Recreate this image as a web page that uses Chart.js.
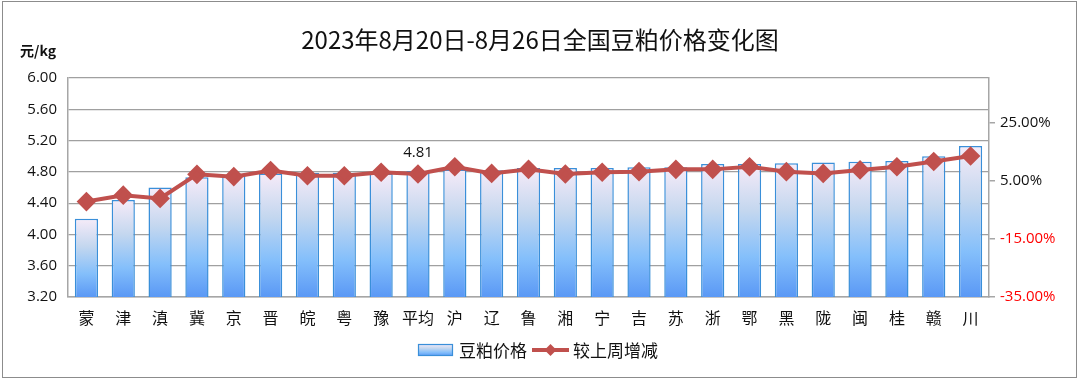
<!DOCTYPE html>
<html>
<head>
<meta charset="utf-8">
<script src="https://cdn.jsdelivr.net/npm/chart.js@4/dist/chart.umd.min.js"></script>
<style>
html,body{margin:0;padding:0;background:#fff;}
#wrap{width:1080px;height:380px;position:relative;}
</style>
</head>
<body>
<div id="wrap"><canvas id="c" width="1080" height="380"></canvas></div>
<script>
const categories = ['蒙','津','滇','冀','京','晋','皖','粤','豫','平均','沪','辽','鲁','湘','宁','吉','苏','浙','鄂','黑','陇','闽','桂','赣','川'];
const prices = [4.20,4.44,4.60,4.73,4.75,4.78,4.79,4.79,4.78,4.81,4.83,4.82,4.85,4.85,4.85,4.86,4.86,4.90,4.90,4.91,4.92,4.93,4.94,5.00,5.13];
const weeklyChange = [-2.1,0.1,-1.0,7.3,6.5,8.6,6.8,6.8,8.0,7.4,9.9,7.6,9.0,7.4,8.0,8.2,9.0,9.0,9.9,8.2,7.6,8.8,9.9,11.7,13.6];
const leftTicks = [3.2,3.6,4.0,4.4,4.8,5.2,5.6,6.0];
const rightTicks = [-35,-15,5,25];
const titleText = '2023年8月20日-8月26日全国豆粕价格变化图';
const unitText = '元/kg';
const seriesNames = ['豆粕价格','较上周增减'];
const labelIndex = 9;

const FONT = '"Open Sans","Noto Sans CJK SC",sans-serif';
const LINE_COLOR = '#c0504d';
const BAR_BORDER = '#3a8fd9';

function barGradient(ctx, top, bottom){
  const g = ctx.createLinearGradient(0, top, 0, bottom);
  g.addColorStop(0, '#f6ebf8');
  g.addColorStop(0.35, '#c4d7ef');
  g.addColorStop(0.7, '#84bffb');
  g.addColorStop(1, '#5a98f5');
  return g;
}

const decor = {
  id: 'decor',
  afterDraw(chart){
    const ctx = chart.ctx;
    ctx.save();
    ctx.strokeStyle = '#8c8c8c';
    ctx.lineWidth = 1;
    ctx.strokeRect(2.5, 1.5, 1074, 376);
    ctx.fillStyle = '#111';
    ctx.font = '24px "Noto Sans CJK SC", sans-serif';
    ctx.textAlign = 'center';
    ctx.textBaseline = 'middle';
    ctx.fillText(titleText, 540, 40);
    ctx.font = 'bold 14px "Noto Sans CJK SC", sans-serif';
    ctx.textAlign = 'left';
    ctx.fillText(unitText, 20, 51);
    const el = chart.getDatasetMeta(1).data[labelIndex];
    ctx.font = '15px ' + FONT;
    ctx.textAlign = 'center';
    ctx.fillStyle = '#111';
    ctx.fillText(prices[labelIndex].toFixed(2), el.x, 153);
    const ly = 350;
    ctx.fillStyle = barGradient(ctx, ly-6, ly+6);
    ctx.fillRect(418, ly-6, 35, 12);
    ctx.strokeStyle = BAR_BORDER;
    ctx.lineWidth = 1.2;
    ctx.strokeRect(418.5, ly-5.5, 34, 11);
    ctx.fillStyle = '#111';
    ctx.font = '17px "Noto Sans CJK SC", sans-serif';
    ctx.textAlign = 'left';
    ctx.fillText(seriesNames[0], 459, ly+1);
    ctx.strokeStyle = LINE_COLOR;
    ctx.lineWidth = 4;
    ctx.beginPath(); ctx.moveTo(532, ly); ctx.lineTo(569, ly); ctx.stroke();
    ctx.fillStyle = LINE_COLOR;
    ctx.beginPath();
    ctx.moveTo(550.5, ly-6); ctx.lineTo(556.5, ly); ctx.lineTo(550.5, ly+6); ctx.lineTo(544.5, ly); ctx.closePath(); ctx.fill();
    ctx.fillStyle = '#111';
    ctx.fillText(seriesNames[1], 573, ly+1);
    ctx.restore();
  }
};

new Chart(document.getElementById('c'), {
  data: {
    labels: categories,
    datasets: [
      {
        type: 'line',
        label: seriesNames[1],
        data: weeklyChange,
        yAxisID: 'y2',
        borderColor: LINE_COLOR,
        backgroundColor: LINE_COLOR,
        borderWidth: 4,
        pointStyle: 'rectRot',
        pointRadius: 7,
        pointHoverRadius: 7,
        pointBackgroundColor: LINE_COLOR,
        pointBorderColor: LINE_COLOR,
        tension: 0,
        order: 0
      },
      {
        type: 'bar',
        label: seriesNames[0],
        data: prices,
        yAxisID: 'y',
        backgroundColor: (c) => {
          const ch = c.chart;
          const ys = ch.scales.y;
          if (!ys || c.raw === undefined) return '#84bffb';
          const top = ys.getPixelForValue(c.raw);
          const bottom = ys.getPixelForValue(ys.min);
          if (!isFinite(top) || !isFinite(bottom) || bottom - top < 1) return '#84bffb';
          return barGradient(ch.ctx, top, bottom);
        },
        borderColor: BAR_BORDER,
        borderWidth: 1.5,
        barPercentage: 0.63,
        categoryPercentage: 1.0,
        order: 1
      }
    ]
  },
  options: {
    responsive: false,
    animation: false,
    events: [],
    layout: { padding: { top: 78, left: 0, right: 0, bottom: 43 } },
    plugins: { legend: { display: false }, title: { display: false }, tooltip: { enabled: false } },
    scales: {
      x: {
        type: 'category',
        afterFit(a){ a.height = 40; },
        grid: { display: false, drawTicks: false },
        border: { display: true, color: '#a6a6a6', width: 1.5 },
        ticks: { color: '#111', font: { size: 16, family: '"Noto Sans CJK SC", sans-serif' }, padding: 11, maxRotation: 0, autoSkip: false }
      },
      y: {
        position: 'left',
        min: 3.2, max: 6.0,
        afterFit(a){ a.width = 68; },
        afterBuildTicks(a){ a.ticks = leftTicks.map(v => ({ value: v })); },
        grid: { color: '#a0a0a0', lineWidth: 1.2, drawTicks: false },
        border: { display: true, color: '#a6a6a6', width: 1.5 },
        ticks: { color: '#111', font: { size: 15, family: FONT }, padding: 11, callback: v => Number(v).toFixed(2) }
      },
      y2: {
        position: 'right',
        min: -35, max: 40.5,
        afterFit(a){ a.width = 91; },
        afterBuildTicks(a){ a.ticks = rightTicks.map(v => ({ value: v })); },
        grid: { drawOnChartArea: false, drawTicks: true, tickLength: 6, color: '#a6a6a6', lineWidth: 1.5 },
        border: { display: true, color: '#a6a6a6', width: 1.5 },
        ticks: {
          font: { size: 15, family: FONT }, padding: 5,
          color: (c) => (c.tick && c.tick.value < 0) ? '#ff0000' : '#111',
          callback: v => Number(v).toFixed(2) + '%'
        }
      }
    }
  },
  plugins: [decor]
});
</script>
</body>
</html>
